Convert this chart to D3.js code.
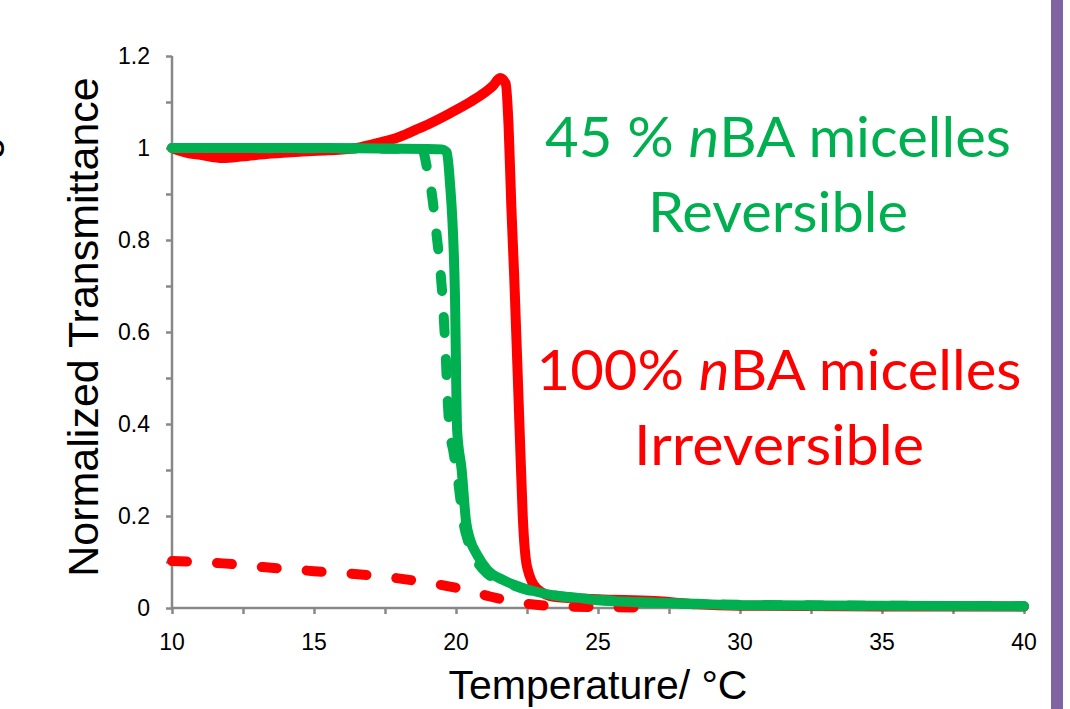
<!DOCTYPE html>
<html>
<head>
<meta charset="utf-8">
<script src="https://cdn.jsdelivr.net/npm/d3@7"></script>
<style>
  body { margin: 0; background: #fff; }
  svg { display: block; }
</style>
</head>
<body>
<svg width="1070" height="709"></svg>
<script>
// temperature (°C) / normalized transmittance
const redSolidT = [10, 10.5, 11, 11.8, 12.5, 13.5, 14.5, 15.5, 16.5, 17.2, 18, 18.6, 19.1, 19.8, 20.5, 21.0, 21.3, 21.55, 21.75, 21.85, 21.95, 22.05, 22.25, 22.35, 22.5, 22.85, 23.5, 25, 27, 28.5, 30, 35, 40];
const redSolidV = [1.0, 0.99, 0.985, 0.978, 0.982, 0.988, 0.992, 0.995, 1.0, 1.01, 1.024, 1.04, 1.054, 1.076, 1.10, 1.12, 1.135, 1.152, 1.14, 1.05, 0.87, 0.72, 0.37, 0.2, 0.09, 0.042, 0.024, 0.019, 0.015, 0.008, 0.005, 0.003, 0.003];

const redDashT = [10, 11.8, 13.2, 15, 17.5, 19, 20.3, 21.2, 22.3, 23.5, 25, 27];
const redDashV = [0.102, 0.097, 0.089, 0.080, 0.068, 0.055, 0.040, 0.025, 0.011, 0.004, 0.002, 0.001];

const greenSolidT = [10, 15, 19, 19.5, 19.68, 19.78, 19.96, 20.04, 20.2, 20.35, 20.5, 20.75, 21.1, 21.65, 22.25, 23.4, 24.3, 25, 28.5, 30, 35, 40];
const greenSolidV = [1.0, 1.0, 0.998, 0.997, 0.99, 0.93, 0.69, 0.387, 0.30, 0.19, 0.148, 0.115, 0.083, 0.061, 0.046, 0.028, 0.022, 0.017, 0.009, 0.006, 0.005, 0.004];

const greenDashT = [10, 18.8, 19.0, 19.15, 19.3, 19.44, 19.52, 19.63, 19.7, 19.77, 19.9, 20.07, 20.25, 20.45, 20.75, 21.1, 21.7, 22.3, 23.4, 25, 30, 40];
const greenDashV = [1.0, 0.998, 0.95, 0.90, 0.82, 0.74, 0.68, 0.56, 0.46, 0.39, 0.343, 0.278, 0.19, 0.14, 0.10, 0.075, 0.057, 0.043, 0.028, 0.018, 0.007, 0.004];

const xTicks = [10, 15, 20, 25, 30, 35, 40];
const yTicks = [0, 0.2, 0.4, 0.6, 0.8, 1, 1.2];

const svg = d3.select('svg');
const axisColor = '#888888';
const red = '#ff0000';
const green = '#00b050';
const sans = 'Liberation Sans, Arial, sans-serif';

const x = d3.scaleLinear().domain([10, 40]).range([172, 1024]);
const y = d3.scaleLinear().domain([0, 1.2]).range([608, 56]);

// purple side bar
svg.append('rect').attr('x', 1051).attr('y', 0).attr('width', 12).attr('height', 709).attr('fill', '#8064a2');

// glyph cut by the left border, as in the source slide
svg.append('text')
    .attr('transform', 'translate(-4,148) rotate(-90)')
    .attr('text-anchor', 'middle')
    .attr('font-family', sans)
    .attr('font-size', 40)
    .text('g');

// axes
const xAxis = d3.axisBottom(x).tickValues(d3.range(10, 40.1, 2.5)).tickSize(6).tickFormat('');
const yAxis = d3.axisLeft(y).tickValues(d3.range(0, 12.1, 1).map(d => d / 10)).tickSize(6).tickFormat('');
const gx = svg.append('g').attr('transform', 'translate(0,608)').call(xAxis);
const gy = svg.append('g').attr('transform', 'translate(172,0)').call(yAxis);
[gx, gy].forEach(g => {
    g.select('.domain').attr('stroke', axisColor).attr('stroke-width', 2.5);
    g.selectAll('.tick line').attr('stroke', axisColor).attr('stroke-width', 2.5);
});
gx.select('.domain').attr('d', 'M172,0H1024');
gy.select('.domain').attr('d', 'M0,56V608');

svg.append('g').selectAll('text').data(xTicks).join('text')
    .attr('x', d => x(d)).attr('y', 650)
    .attr('text-anchor', 'middle')
    .attr('font-family', sans)
    .attr('font-size', 23)
    .text(d => d);

svg.append('g').selectAll('text').data(yTicks).join('text')
    .attr('x', 150).attr('y', d => y(d) + 8)
    .attr('text-anchor', 'end')
    .attr('font-family', sans)
    .attr('font-size', 23)
    .text(d => d);

// axis titles
svg.append('text')
    .attr('x', 598).attr('y', 699)
    .attr('text-anchor', 'middle')
    .attr('font-family', sans)
    .attr('font-size', 41)
    .text('Temperature/ °C');

svg.append('text')
    .attr('transform', 'translate(98,327) rotate(-90)')
    .attr('text-anchor', 'middle')
    .attr('font-family', sans)
    .attr('font-size', 43)
    .text('Normalized Transmittance');

// curves
const line = d3.line().x(d => x(d[0])).y(d => y(d[1])).curve(d3.curveMonotoneX);
const zip = (a, b) => a.map((t, i) => [t, b[i]]);

const series = [
    { t: redDashT, v: redDashV, color: red, dash: '15,30' },
    { t: redSolidT, v: redSolidV, color: red, dash: null },
    { t: greenDashT, v: greenDashV, color: green, dash: '16,26' },
    { t: greenSolidT, v: greenSolidV, color: green, dash: null }
];
series.forEach(s => {
    svg.append('path')
        .attr('d', line(zip(s.t, s.v)))
        .attr('fill', 'none')
        .attr('stroke', s.color)
        .attr('stroke-width', 10)
        .attr('stroke-linecap', 'round')
        .attr('stroke-linejoin', 'round')
        .attr('stroke-dasharray', s.dash);
});

// annotations
function note(lines, color, x0, baselines, widths) {
    lines.forEach((parts, i) => {
        const t = svg.append('text')
            .attr('x', x0).attr('y', baselines[i])
            .attr('text-anchor', 'middle')
            .attr('font-family', 'Lato, Open Sans, sans-serif')
            .attr('font-size', 56)
            .attr('fill', color)
            .attr('textLength', widths[i])
            .attr('lengthAdjust', 'spacingAndGlyphs');
        parts.forEach(p => {
            t.append('tspan').attr('font-style', p.i ? 'italic' : 'normal').text(p.s);
        });
    });
}
note([[{ s: '45 % ' }, { s: 'n', i: true }, { s: 'BA micelles' }], [{ s: 'Reversible' }]],
    green, 778, [157, 232], [466, 260]);
note([[{ s: '100% ' }, { s: 'n', i: true }, { s: 'BA micelles' }], [{ s: 'Irreversible' }]],
    red, 779, [390, 465], [485, 290]);
</script>
</body>
</html>
